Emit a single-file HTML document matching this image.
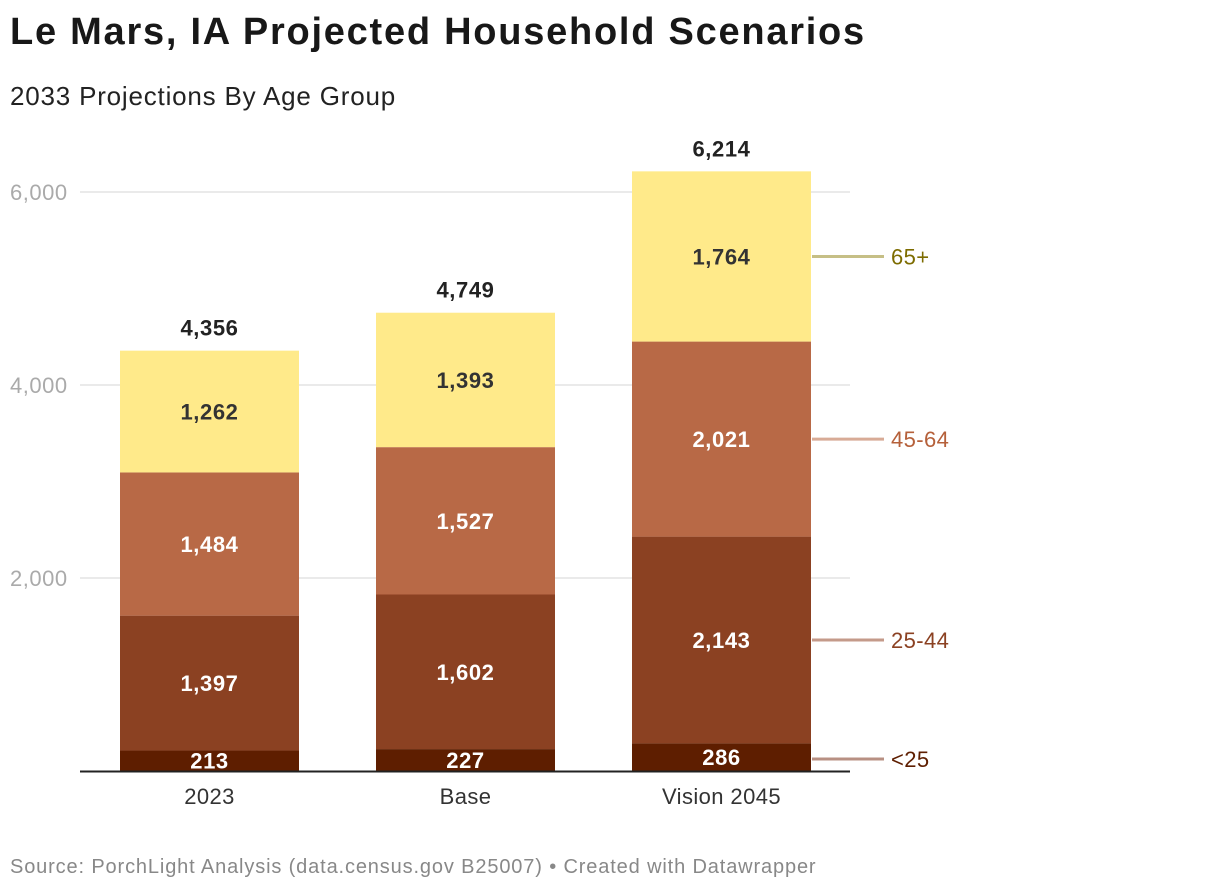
<!DOCTYPE html>
<html><head><meta charset="utf-8"><style>
body{margin:0;background:#fff;font-family:"Liberation Sans",sans-serif;}
#wrap{position:relative;width:1220px;height:892px;overflow:hidden}
h1{position:absolute;left:10px;top:11px;margin:0;font-size:38px;font-weight:bold;color:#181818;letter-spacing:1.75px}
.sub{position:absolute;left:10px;top:81px;font-size:26px;color:#222;letter-spacing:0.8px}
.src{position:absolute;left:10px;top:856px;font-size:20px;color:#888;letter-spacing:0.86px}
</style></head><body>
<div id="wrap">
<h1>Le Mars, IA Projected Household Scenarios</h1>
<div class="sub">2033 Projections By Age Group</div>
<svg id="svg" width="1220" height="892" style="position:absolute;left:0;top:0"></svg>
<div class="src">Source: PorchLight Analysis (data.census.gov B25007) • Created with Datawrapper</div>
</div>
<script>
const categories=["2023","Base","Vision 2045"];
const seriesNames=["<25","25-44","45-64","65+"];
const under25=[213,227,286];
const age2544=[1397,1602,2143];
const age4564=[1484,1527,2021];
const age65=[1262,1393,1764];
const yTicks=[2000,4000,6000];
const tickLabels=["2,000","4,000","6,000"];
const fills=["#5e1e00","#8b4122","#b86946","#ffea8a"];
const lineCols=["#b89083","#c49a8a","#d8ab96","#c6bf86"];
const textCols=["#5e1e00","#8b4122","#b5603a","#7d6c00"];
const valCols=["#fff","#fff","#fff","#333"];
const series=[under25,age2544,age4564,age65];
const svg=document.getElementById('svg');
const NS="http://www.w3.org/2000/svg";
const y=v=>771-v*193/2000;
const bw=179, x=i=>120+i*256;
const fmt=v=>v.toLocaleString('en-US');
function el(t,a,txt){const e=document.createElementNS(NS,t);for(const k in a)e.setAttribute(k,a[k]);if(txt!==undefined)e.textContent=txt;svg.appendChild(e);return e;}
yTicks.forEach((t,i)=>{
 const g=el('line',{x1:80,x2:850,y1:y(t),y2:y(t),stroke:'#e3e3e3','stroke-width':1.5});
 
 
 const l=el('text',{x:10,y:y(t)+8,'font-size':22,fill:'#aaa','letter-spacing':0.5},tickLabels[i]);
 
 
});
categories.forEach((c,i)=>{
 let cum=0;
 series.forEach((s,j)=>{
  const v=s[i],y0=y(cum),y1=y(cum+v);
  const r=el('rect',{x:x(i),y:y1,width:bw,height:y0-y1,fill:fills[j]});
  
  
  const ty=j==0?Math.min((y0+y1)/2+8,y0-2):(y0+y1)/2+8;
  const t=el('text',{x:x(i)+bw/2,y:ty,'text-anchor':'middle','font-size':22,'font-weight':'bold',fill:valCols[j],'letter-spacing':0.6},fmt(v));
  
  
  cum+=v;
 });
 const tt=el('text',{x:x(i)+bw/2,y:y(cum)-15,'text-anchor':'middle','font-size':22,'font-weight':'bold',fill:'#222','letter-spacing':0.6},fmt(cum));
 
 
 const xl=el('text',{x:x(i)+bw/2,y:804,'text-anchor':'middle','font-size':22,fill:'#333','letter-spacing':0.4},c);
 
 
});
const last=categories.length-1;
let cum=0;
series.forEach((s,j)=>{
 const mid=y(cum+s[last]/2);cum+=s[last];
 const yy=j==0?759:mid;
 const ln=el('line',{x1:812,x2:884,y1:yy,y2:yy,stroke:lineCols[j],'stroke-width':3});
 
 
 const t=el('text',{x:891,y:yy+8,'font-size':22,fill:textCols[j],'letter-spacing':0.4},seriesNames[j]);
 
 
});
const ax=el('line',{x1:80,x2:850,y1:771.5,y2:771.5,stroke:'#222','stroke-width':2});


</script>
</body></html>
